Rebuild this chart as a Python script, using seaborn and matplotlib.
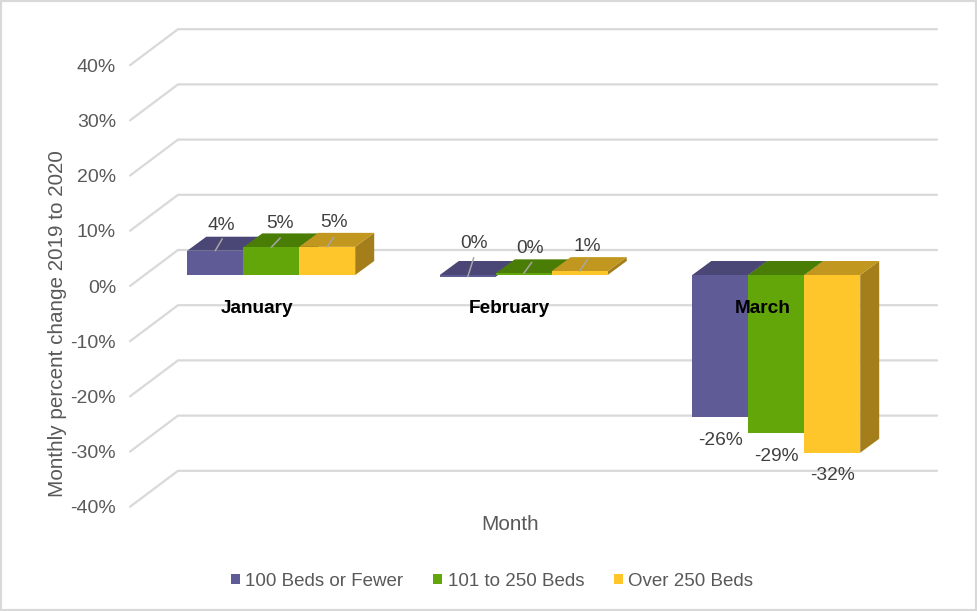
import numpy as np
import pandas as pd
import matplotlib
matplotlib.use('Agg')
import matplotlib.pyplot as plt
from matplotlib.patches import Polygon, Rectangle
from matplotlib.transforms import Affine2D
import seaborn as sns

months = ['January', 'February', 'March']
beds = ['100 Beds or Fewer', '101 to 250 Beds', 'Over 250 Beds']
small_beds = [4.4, -0.3, -25.8]
mid_beds = [5.0, 0.3, -28.7]
large_beds = [5.1, 0.7, -32.2]
small_labels = ['4%', '0%', '-26%']
mid_labels = ['5%', '0%', '-29%']
large_labels = ['5%', '1%', '-32%']
y_ticks = [-40, -30, -20, -10, 0, 10, 20, 30, 40]

colors = ['#5F5B97', '#62A60A', '#FFC62B']
top_colors = ['#4A4776', '#4A7D06', '#C1971F']
side_colors = ['#3F3C66', '#3F6A05', '#A47E1A']
grid_color = '#D9D9D9'
text_color = '#595959'

df = pd.DataFrame({
    'Month': months * 3,
    'Beds': np.repeat(beds, 3),
    'Change': small_beds + mid_beds + large_beds,
})

sns.set_theme(style='white', font='Liberation Sans')

W, H = 977, 611
fig = plt.figure(figsize=(W / 100, H / 100), dpi=100)
ax = fig.add_axes([145 / W, 1 - 495.8 / H, 757.5 / W, 441.6 / H])

sns.barplot(data=df, x='Month', y='Change', hue='Beds', order=months, hue_order=beds,
            palette=colors, saturation=1, width=0.665, gap=0, linewidth=0, zorder=3, ax=ax)
ax.set_xlim(-0.5, 2.5)
ax.set_ylim(-40, 40)

# pixels to data units, used for the fake 3D depth
px_x = 3 / 757.5
px_y = 80 / 441.6

# back wall and floor lines
for y in y_ticks:
    ax.plot([-0.5 - 15 * px_x, -0.5 + 33 * px_x, 2.5 + 34.5 * px_x],
            [y - 11 * px_y, y + 25 * px_y, y + 25 * px_y],
            color=grid_color, lw=1.6, clip_on=False, zorder=1)

# sides and tops of the bars
dx, dy = 19 * px_x, 14 * px_y
for cont, top_c, side_c in zip(ax.containers, top_colors, side_colors):
    for bar in cont:
        x0, x1 = bar.get_x(), bar.get_x() + bar.get_width()
        y0, y1 = sorted([bar.get_y(), bar.get_y() + bar.get_height()])
        top = max(y1, 0)
        ax.add_patch(Polygon([(x1, y0), (x1 + dx, y0 + dy), (x1 + dx, top + dy), (x1, top)],
                             fc=side_c, ec='none', clip_on=False, zorder=2))
        ax.add_patch(Polygon([(x0, top), (x0 + dx, top + dy), (x1 + dx, top + dy), (x1, top)],
                             fc=top_c, ec='none', clip_on=False, zorder=2.5))

# data labels, offsets in pixels from the end of each bar
offsets = [
    [(6, 25), (6, 32), (0, -23)],
    [(9, 24), (6, 25), (0, -23)],
    [(6.5, 24), (8, 25), (0, -23)],
]
# where the grey leader lines stop, same pixel offsets
leader_tips = [
    [(7, 12), (6, 19), None],
    [(9, 9.5), (8, 11), None],
    [(6.5, 9.5), (8, 12), None],
]
all_labels = [small_labels, mid_labels, large_labels]
for cont, labels, offs, tips in zip(ax.containers, all_labels, offsets, leader_tips):
    for bar, lab, off, tip in zip(cont, labels, offs, tips):
        xc = bar.get_x() + bar.get_width() / 2
        end = bar.get_y() + bar.get_height()
        if tip is None:
            ax.annotate(lab, xy=(xc, end), xytext=off, textcoords='offset pixels',
                        ha='center', va='center', fontsize=13.8, color='#404040', zorder=5)
        else:
            ax.annotate(lab, xy=(xc, max(end, 0)), xytext=off, textcoords='offset pixels',
                        ha='center', va='center', fontsize=13.8, color='#404040', zorder=5)
            ax.annotate('', xy=(xc, min(end, max(end, 0))), xytext=tip, textcoords='offset pixels', zorder=5,
                        arrowprops=dict(arrowstyle='-', color='#A6A6A6', lw=1.1, shrinkA=0, shrinkB=0))

# ticks
sns.despine(ax=ax, left=True, bottom=True, top=True, right=True)
ax.spines['bottom'].set_position(('data', 0))
ax.xaxis.set_zorder(6)
ax.set_yticks(y_ticks)
ax.set_yticklabels([f'{v}%' for v in y_ticks])
ax.tick_params(axis='y', length=0, pad=20.8, labelsize=14, labelcolor=text_color)
ax.tick_params(axis='x', length=0, pad=18, labelsize=13.7, labelcolor='black')
for lab in ax.get_yticklabels():
    lab.set_transform(lab.get_transform() + Affine2D().translate(0, -11))
for lab in ax.get_xticklabels():
    lab.set_fontweight('bold')
    lab.set_transform(lab.get_transform() + Affine2D().translate(-14, 0))

ax.set_ylabel('Monthly percent change 2019 to 2020', fontsize=14.9, color=text_color, va='center')
ax.yaxis.set_label_coords((58 - 145) / 757.5, 0.39)
ax.set_xlabel('Month', fontsize=14.9, color=text_color, va='center')
ax.xaxis.set_label_coords((510 - 145) / 757.5, (495.8 - 524) / 441.6)

leg = ax.legend(loc='center', bbox_to_anchor=(492 / W, 1 - 581 / H), bbox_transform=fig.transFigure,
                ncol=3, frameon=False, fontsize=13.5, handlelength=0.5, handleheight=0.5,
                handletextpad=0.27, columnspacing=1.6, labelcolor=text_color)
for h in leg.legend_handles:
    h.set_linewidth(0)

# chart frame
fig.add_artist(Rectangle((0, 0), 1, 1, transform=fig.transFigure, fc='none', ec=grid_color, lw=3))

fig.savefig('out.png', dpi=100)
